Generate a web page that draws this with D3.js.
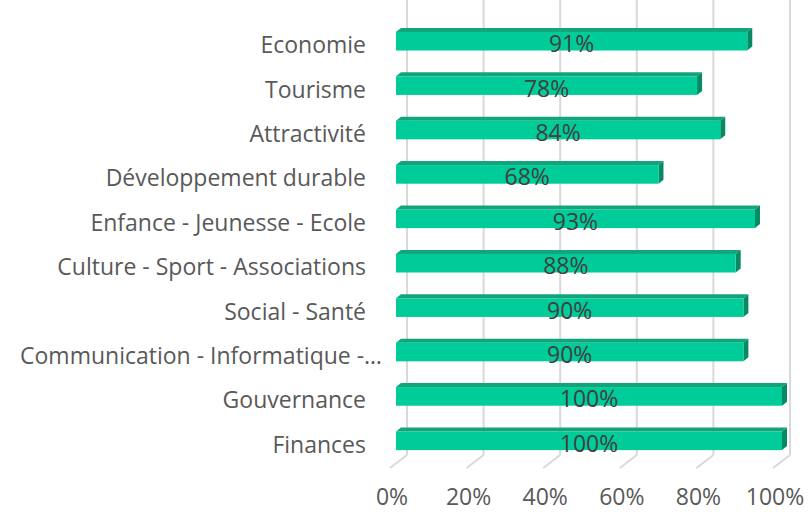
<!DOCTYPE html>
<html>
<head>
<meta charset="utf-8">
<script src="https://cdn.jsdelivr.net/npm/d3@7"></script>
<style>
  body { margin: 0; background: #fff; }
  svg { display: block; }
</style>
</head>
<body>
<div id="chart"></div>
<script>
const categories = [
  "Economie",
  "Tourisme",
  "Attractivité",
  "Développement durable",
  "Enfance - Jeunesse - Ecole",
  "Culture - Sport - Associations",
  "Social - Santé",
  "Communication - Informatique -…",
  "Gouvernance",
  "Finances"
];
const values = [0.91, 0.78, 0.84, 0.68, 0.93, 0.88, 0.90, 0.90, 1.00, 1.00];
const ticks = [0, 0.2, 0.4, 0.6, 0.8, 1.0];

const width = 812;
const height = 512;
const font = "'Open Sans', sans-serif";

const svg = d3.select("#chart")
  .append("svg")
  .attr("width", width)
  .attr("height", height);

// front plane of the bars, back wall for gridlines, front edge of floor for labels
const x = d3.scaleLinear().domain([0, 1]).range([396, 782]);
const xBack = d3.scaleLinear().domain([0, 1]).range([407, 790]);
const xFloor = d3.scaleLinear().domain([0, 1]).range([392, 775]);

const y = d3.scaleBand()
  .domain(categories)
  .range([19, 463])
  .paddingInner(0.58)
  .paddingOuter(0.29);

const floorBack = 455, floorFront = 468;
const dx = 5, dy = -4; // depth of the bars

// gridlines on the back wall + floor
const grid = svg.append("g");
grid.selectAll(".v")
  .data(ticks)
  .enter()
  .append("line")
  .attr("x1", d => xBack(d))
  .attr("x2", d => xBack(d))
  .attr("y1", 0)
  .attr("y2", floorBack)
  .attr("stroke", "#d9d9d9")
  .attr("stroke-width", 2);
grid.selectAll(".f")
  .data(ticks)
  .enter()
  .append("line")
  .attr("x1", d => xBack(d))
  .attr("x2", d => xFloor(d) - 2)
  .attr("y1", floorBack)
  .attr("y2", floorFront)
  .attr("stroke", "#d9d9d9")
  .attr("stroke-width", 2);

const bars = svg.selectAll(".bar")
  .data(categories.map((c, i) => ({ name: c, value: values[i] })))
  .enter()
  .append("g")
  .attr("class", "bar");

// top face
bars.append("path")
  .attr("fill", "#14a47a")
  .attr("d", d => {
    const x0 = x(0), x1 = x(d.value), t = y(d.name);
    return `M${x0},${t} L${x0 + dx},${t + dy} L${x1 + dx},${t + dy} L${x1},${t} Z`;
  });

// side face
bars.append("path")
  .attr("fill", "#068a63")
  .attr("d", d => {
    const x1 = x(d.value), t = y(d.name), b = t + y.bandwidth();
    return `M${x1},${t} L${x1 + dx},${t + dy} L${x1 + dx},${b + dy} L${x1},${b} Z`;
  });

// front face
bars.append("rect")
  .attr("x", x(0))
  .attr("y", d => y(d.name))
  .attr("width", d => x(d.value) - x(0))
  .attr("height", y.bandwidth())
  .attr("fill", "#00cc99");

bars.append("text")
  .attr("x", d => (x(0) + x(d.value)) / 2)
  .attr("y", d => y(d.name) + y.bandwidth() / 2 + 11)
  .attr("text-anchor", "middle")
  .attr("font-family", font)
  .attr("font-size", 23)
  .attr("fill", "#404040")
  .text(d => Math.round(d.value * 100) + "%");

// category labels (the truncated one overflows a bit to the right, like excel does)
svg.selectAll(".cat")
  .data(categories)
  .enter()
  .append("text")
  .attr("x", d => d.endsWith("…") ? 382 : 366)
  .attr("y", d => y(d) + y.bandwidth() / 2 + 12)
  .attr("text-anchor", "end")
  .attr("font-family", font)
  .attr("font-size", 23)
  .attr("fill", "#595959")
  .text(d => d);

// x tick labels
svg.selectAll(".tick")
  .data(ticks)
  .enter()
  .append("text")
  .attr("x", d => xFloor(d))
  .attr("y", 505)
  .attr("text-anchor", "middle")
  .attr("font-family", font)
  .attr("font-size", 23)
  .attr("fill", "#595959")
  .text(d3.format(".0%"));
</script>
</body>
</html>
